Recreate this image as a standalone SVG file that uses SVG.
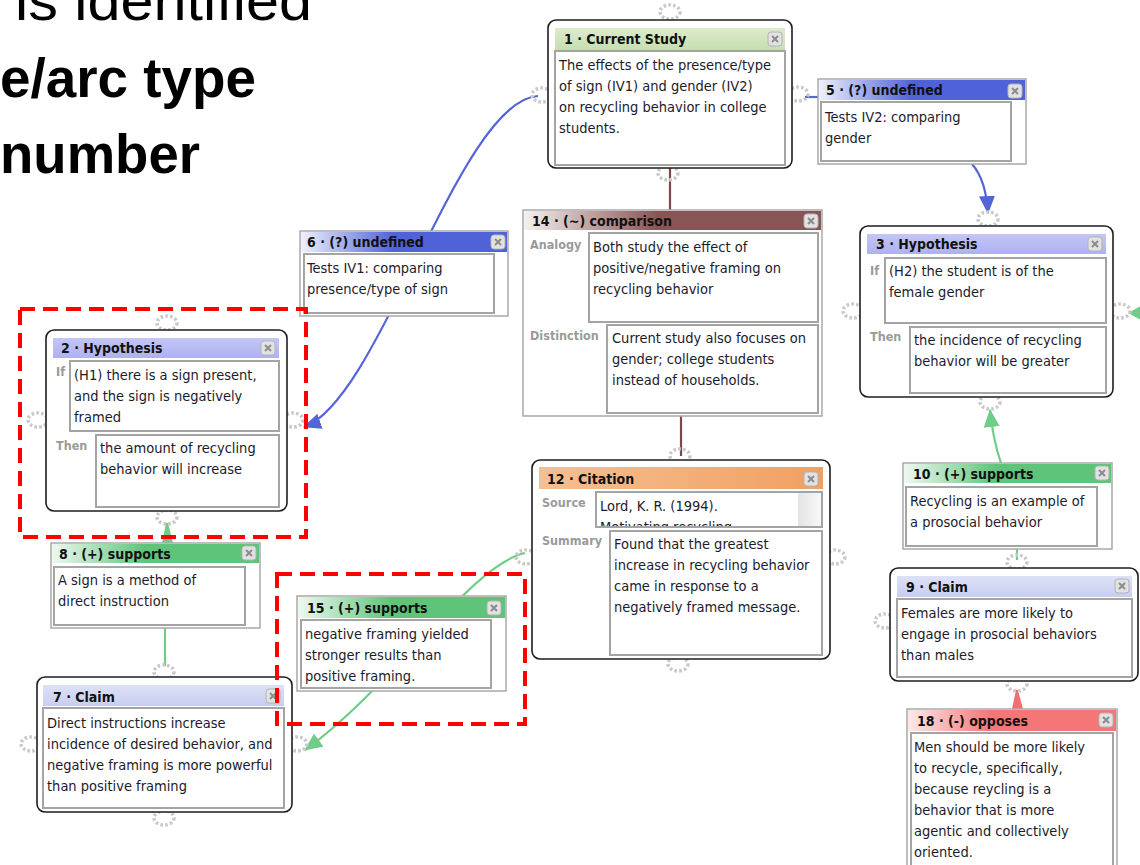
<svg xmlns="http://www.w3.org/2000/svg" xmlns:xlink="http://www.w3.org/1999/xlink" width="1140" height="865" viewBox="0 0 1140 865">
<style>
.body{font-family:"DejaVu Sans Condensed","DejaVu Sans",sans-serif;font-stretch:condensed;font-size:14.5px;fill:#1b1b2b}
.ttl{font-family:"DejaVu Sans Condensed","DejaVu Sans",sans-serif;font-stretch:condensed;font-weight:bold;font-size:14px;fill:#111}
.lbl{font-family:"DejaVu Sans Condensed","DejaVu Sans",sans-serif;font-stretch:condensed;font-weight:bold;font-size:12.5px;fill:#9a9a9a}
.big{font-family:"Liberation Sans",Arial,sans-serif;font-size:55px;fill:#000}
.cbox{fill:#fff;stroke:#1e1e1e;stroke-width:1.6}
.lbox{fill:#fff;stroke:#a9a9a9;stroke-width:1.5}
.tbox{fill:#fff;stroke:#a4a4a4;stroke-width:2}
.cb{fill:none;stroke:#5565d8;stroke-width:2.2}
.cg{fill:none;stroke:#6fcd87;stroke-width:2.2}
.cbr{fill:none;stroke:#7a4a4a;stroke-width:2.2}
.red{fill:none;stroke:#ff0000;stroke-width:4;stroke-dasharray:15 8}
</style>
<defs>
<linearGradient id="gHyp" x1="0" y1="0" x2="0" y2="1"><stop offset="0" stop-color="#c4c6f6"/><stop offset="1" stop-color="#aeb1f0"/></linearGradient>
<linearGradient id="gClaim" x1="0" y1="0" x2="0" y2="1"><stop offset="0" stop-color="#dde1f7"/><stop offset="1" stop-color="#c8cef0"/></linearGradient>
<linearGradient id="gStudy" x1="0" y1="0" x2="0" y2="1"><stop offset="0" stop-color="#dcebcd"/><stop offset="1" stop-color="#c6deb0"/></linearGradient>
<linearGradient id="gCite" x1="0" y1="0" x2="1" y2="0"><stop offset="0" stop-color="#f6bf92"/><stop offset="1" stop-color="#f0a062"/></linearGradient>
<linearGradient id="gSup" x1="0" y1="0" x2="1" y2="0"><stop offset="0" stop-color="#eef8f0"/><stop offset="0.45" stop-color="#5ec47a"/><stop offset="1" stop-color="#5ec47a"/></linearGradient>
<linearGradient id="gUnd" x1="0" y1="0" x2="1" y2="0"><stop offset="0" stop-color="#eef0fc"/><stop offset="0.45" stop-color="#5062d8"/><stop offset="1" stop-color="#5062d8"/></linearGradient>
<linearGradient id="gCmp" x1="0" y1="0" x2="1" y2="0"><stop offset="0" stop-color="#f6f0f0"/><stop offset="0.45" stop-color="#875555"/><stop offset="1" stop-color="#875555"/></linearGradient>
<linearGradient id="gOpp" x1="0" y1="0" x2="1" y2="0"><stop offset="0" stop-color="#fde9e9"/><stop offset="0.4" stop-color="#f47676"/><stop offset="1" stop-color="#f47676"/></linearGradient>
<linearGradient id="gScroll" x1="0" y1="0" x2="1" y2="0"><stop offset="0" stop-color="#e4e4e4"/><stop offset="1" stop-color="#f8f8f8"/></linearGradient>
<g id="close"><rect x="0" y="0" width="14" height="14" rx="3" fill="#e2e2e2" stroke="#b4b4b4"/><path d="M4,4 L10,10 M10,4 L4,10" stroke="#8c8c8c" stroke-width="2"/></g>
<g id="hdl"><ellipse cx="0" cy="0" rx="10" ry="7" fill="none" stroke="#c9c9c9" stroke-width="3.5" stroke-dasharray="2.6 2.2"/></g>
<marker id="arB" viewBox="0 0 18 16" markerWidth="18" markerHeight="16" refX="17" refY="8" orient="auto" markerUnits="userSpaceOnUse"><path d="M0,0 L18,8 L0,16 z" fill="#5565d8"/></marker>
<marker id="arG" viewBox="0 0 18 16" markerWidth="18" markerHeight="16" refX="17" refY="8" orient="auto" markerUnits="userSpaceOnUse"><path d="M0,0 L18,8 L0,16 z" fill="#6fcd87"/></marker>
<clipPath id="srcClip"><rect x="597" y="493" width="200" height="33"/></clipPath>
</defs>
<rect x="0" y="0" width="1140" height="865" fill="#fff"/>

<g id="heading">
<text class="big" x="15" y="20" textLength="297" lengthAdjust="spacingAndGlyphs">is identified</text>
<text class="big" x="0" y="97" font-weight="bold" textLength="256" lengthAdjust="spacingAndGlyphs">e/arc type</text>
<text class="big" x="0" y="173" font-weight="bold" textLength="200" lengthAdjust="spacingAndGlyphs">number</text>
</g>

<g id="connectors">
<path class="cb" d="M805,97 L818,97"/>
<path class="cb" d="M972,164 Q986,180 988,213" marker-end="url(#arB)"/>
<path class="cb" d="M538,96 C460,100 380,400 304,427" marker-end="url(#arB)"/>
<path class="cbr" d="M670,168 V210"/>
<path class="cbr" d="M681,416 V456"/>
<polygon points="166,523 168,523 173,543 162,543" fill="#6fcd87"/>
<path class="cg" d="M165,628 V666"/>
<path class="cg" d="M525,553 C470,565 395,685 305,750" marker-end="url(#arG)"/>
<path class="cg" d="M1001,463 Q993,440 990,410" marker-end="url(#arG)"/>
<path class="cg" d="M1017,549 V560"/>
<polygon points="1016,690 1018,690 1023,709 1012,709" fill="#f07070"/>
<polygon points="1128,313 1141,306 1141,320" fill="#6fcd87"/>
</g>

<g id="handles">
<use href="#hdl" x="670" y="12"/><use href="#hdl" x="542" y="95"/><use href="#hdl" x="798" y="94"/><use href="#hdl" x="668" y="173"/>
<use href="#hdl" x="988" y="219"/><use href="#hdl" x="853" y="311"/><use href="#hdl" x="1120" y="311"/><use href="#hdl" x="990" y="402"/>
<use href="#hdl" x="167" y="323"/><use href="#hdl" x="38" y="420"/><use href="#hdl" x="293" y="420"/><use href="#hdl" x="167" y="517"/>
<use href="#hdl" x="164" y="672"/><use href="#hdl" x="31" y="744"/><use href="#hdl" x="297" y="744"/><use href="#hdl" x="164" y="818"/>
<use href="#hdl" x="680" y="456"/><use href="#hdl" x="526" y="557"/><use href="#hdl" x="835" y="557"/><use href="#hdl" x="678" y="664"/>
<use href="#hdl" x="1017" y="562"/><use href="#hdl" x="885" y="621"/><use href="#hdl" x="1017" y="684"/>
</g>

<g id="node1">
<rect class="cbox" x="548" y="20" width="244" height="148" rx="8"/>
<rect x="555" y="28" width="230" height="22" fill="url(#gStudy)"/>
<text class="ttl" x="564" y="44">1 · Current Study</text>
<use href="#close" x="768" y="32"/>
<rect class="tbox" x="555" y="51" width="230" height="114"/>
<text class="body" x="559" y="70">The effects of the presence/type</text>
<text class="body" x="559" y="91">of sign (IV1) and gender (IV2)</text>
<text class="body" x="559" y="112">on recycling behavior in college</text>
<text class="body" x="559" y="133">students.</text>
</g>

<g id="node5">
<rect class="lbox" x="818" y="79" width="208" height="85"/>
<rect x="819" y="80" width="206" height="20" fill="url(#gUnd)"/>
<text class="ttl" x="826" y="95">5 · (?) undefined</text>
<use href="#close" x="1008" y="84"/>
<rect class="tbox" x="821" y="102" width="190" height="59"/>
<text class="body" x="825" y="122">Tests IV2: comparing</text>
<text class="body" x="825" y="143">gender</text>
</g>

<g id="node6">
<rect class="lbox" x="300" y="231" width="208" height="85"/>
<rect x="301" y="232" width="206" height="20" fill="url(#gUnd)"/>
<text class="ttl" x="307" y="247">6 · (?) undefined</text>
<use href="#close" x="491" y="235"/>
<rect class="tbox" x="304" y="254" width="190" height="59"/>
<text class="body" x="307" y="273">Tests IV1: comparing</text>
<text class="body" x="307" y="294">presence/type of sign</text>
</g>

<g id="node14">
<rect class="lbox" x="523" y="210" width="299" height="206"/>
<rect x="524" y="211" width="297" height="19" fill="url(#gCmp)"/>
<text class="ttl" x="532" y="226">14 · (~) comparison</text>
<use href="#close" x="804" y="214"/>
<text class="lbl" x="530" y="249">Analogy</text>
<rect class="tbox" x="589" y="233" width="229" height="89"/>
<text class="body" x="593" y="252">Both study the effect of</text>
<text class="body" x="593" y="273">positive/negative framing on</text>
<text class="body" x="593" y="294">recycling behavior</text>
<text class="lbl" x="530" y="340">Distinction</text>
<rect class="tbox" x="607" y="325" width="211" height="88"/>
<text class="body" x="612" y="343">Current study also focuses on</text>
<text class="body" x="612" y="364">gender; college students</text>
<text class="body" x="612" y="385">instead of households.</text>
</g>

<g id="node3">
<rect class="cbox" x="860" y="226" width="253" height="171" rx="8"/>
<rect x="867" y="234" width="239" height="20" fill="url(#gHyp)"/>
<text class="ttl" x="876" y="249">3 · Hypothesis</text>
<use href="#close" x="1088" y="237"/>
<text class="lbl" x="870" y="275">If</text>
<rect class="tbox" x="885" y="258" width="221" height="65"/>
<text class="body" x="889" y="276">(H2) the student is of the</text>
<text class="body" x="889" y="297">female gender</text>
<text class="lbl" x="870" y="341">Then</text>
<rect class="tbox" x="910" y="327" width="196" height="66"/>
<text class="body" x="914" y="345">the incidence of recycling</text>
<text class="body" x="914" y="366">behavior will be greater</text>
</g>

<g id="node2">
<rect class="cbox" x="46" y="330" width="241" height="181" rx="8"/>
<rect x="53" y="338" width="226" height="20" fill="url(#gHyp)"/>
<text class="ttl" x="61" y="353">2 · Hypothesis</text>
<use href="#close" x="261" y="341"/>
<text class="lbl" x="56" y="376">If</text>
<rect class="tbox" x="70" y="361" width="209" height="70"/>
<text class="body" x="74" y="380">(H1) there is a sign present,</text>
<text class="body" x="74" y="401">and the sign is negatively</text>
<text class="body" x="74" y="422">framed</text>
<text class="lbl" x="56" y="450">Then</text>
<rect class="tbox" x="96" y="435" width="183" height="72"/>
<text class="body" x="100" y="453">the amount of recycling</text>
<text class="body" x="100" y="474">behavior will increase</text>
</g>

<g id="node8">
<rect class="lbox" x="51" y="543" width="209" height="85"/>
<rect x="52" y="544" width="207" height="19" fill="url(#gSup)"/>
<text class="ttl" x="59" y="559">8 · (+) supports</text>
<use href="#close" x="242" y="546"/>
<rect class="tbox" x="54" y="567" width="191" height="58"/>
<text class="body" x="58" y="585">A sign is a method of</text>
<text class="body" x="58" y="606">direct instruction</text>
</g>

<g id="node7">
<rect class="cbox" x="37" y="677" width="255" height="135" rx="8"/>
<rect x="43" y="685" width="241" height="21" fill="url(#gClaim)"/>
<text class="ttl" x="53" y="702">7 · Claim</text>
<use href="#close" x="266" y="689"/>
<rect class="tbox" x="43" y="708" width="241" height="100"/>
<text class="body" x="47" y="728">Direct instructions increase</text>
<text class="body" x="47" y="749">incidence of desired behavior, and</text>
<text class="body" x="47" y="770">negative framing is more powerful</text>
<text class="body" x="47" y="791">than positive framing</text>
</g>

<g id="node15">
<rect class="lbox" x="297" y="596" width="209" height="95"/>
<rect x="298" y="597" width="207" height="21" fill="url(#gSup)"/>
<text class="ttl" x="307" y="613">15 · (+) supports</text>
<use href="#close" x="487" y="601"/>
<rect class="tbox" x="301" y="620" width="190" height="68"/>
<text class="body" x="305" y="639">negative framing yielded</text>
<text class="body" x="305" y="660">stronger results than</text>
<text class="body" x="305" y="681">positive framing.</text>
</g>

<g id="node12">
<rect class="cbox" x="532" y="460" width="298" height="199" rx="8"/>
<rect x="539" y="467" width="284" height="22" fill="url(#gCite)"/>
<text class="ttl" x="547" y="484">12 · Citation</text>
<use href="#close" x="804" y="472"/>
<text class="lbl" x="542" y="507">Source</text>
<rect class="tbox" x="596" y="492" width="226" height="35"/>
<rect x="798" y="493" width="23" height="33" fill="url(#gScroll)"/>
<g clip-path="url(#srcClip)">
<text class="body" x="600" y="511">Lord, K. R. (1994).</text>
<text class="body" x="600" y="532">Motivating recycling</text>
</g>
<text class="lbl" x="542" y="545">Summary</text>
<rect class="tbox" x="610" y="531" width="212" height="124"/>
<text class="body" x="614" y="549">Found that the greatest</text>
<text class="body" x="614" y="570">increase in recycling behavior</text>
<text class="body" x="614" y="591">came in response to a</text>
<text class="body" x="614" y="612">negatively framed message.</text>
</g>

<g id="node10">
<rect class="lbox" x="903" y="463" width="209" height="86"/>
<rect x="904" y="464" width="207" height="19" fill="url(#gSup)"/>
<text class="ttl" x="913" y="479">10 · (+) supports</text>
<use href="#close" x="1095" y="466"/>
<rect class="tbox" x="906" y="487" width="191" height="59"/>
<text class="body" x="910" y="506">Recycling is an example of</text>
<text class="body" x="910" y="527">a prosocial behavior</text>
</g>

<g id="node9">
<rect class="cbox" x="890" y="568" width="248" height="113" rx="8"/>
<rect x="897" y="576" width="235" height="21" fill="url(#gClaim)"/>
<text class="ttl" x="906" y="592">9 · Claim</text>
<use href="#close" x="1115" y="579"/>
<rect class="tbox" x="897" y="599" width="235" height="78"/>
<text class="body" x="901" y="618">Females are more likely to</text>
<text class="body" x="901" y="639">engage in prosocial behaviors</text>
<text class="body" x="901" y="660">than males</text>
</g>

<g id="node18">
<rect class="lbox" x="907" y="709" width="210" height="170"/>
<rect x="908" y="710" width="208" height="21" fill="url(#gOpp)"/>
<text class="ttl" x="917" y="726">18 · (-) opposes</text>
<use href="#close" x="1099" y="713"/>
<rect class="tbox" x="911" y="733" width="202" height="150"/>
<text class="body" x="914" y="752">Men should be more likely</text>
<text class="body" x="914" y="773">to recycle, specifically,</text>
<text class="body" x="914" y="794">because reycling is a</text>
<text class="body" x="914" y="815">behavior that is more</text>
<text class="body" x="914" y="836">agentic and collectively</text>
<text class="body" x="914" y="857">oriented.</text>
</g>

<g id="highlights">
<rect class="red" x="20" y="309" width="286" height="228"/>
<rect class="red" x="277" y="574" width="248" height="150"/>
</g>
</svg>
